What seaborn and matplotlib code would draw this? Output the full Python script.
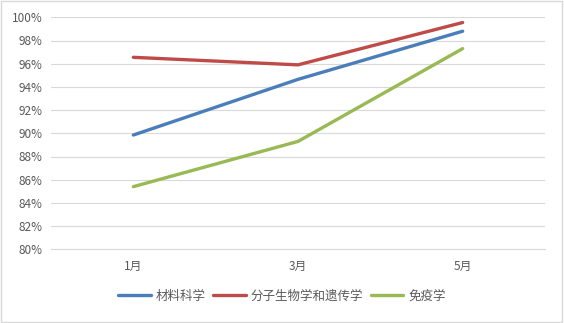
import matplotlib
matplotlib.use("Agg")
import matplotlib.pyplot as plt
import seaborn as sns
import pandas as pd
from matplotlib.patches import Rectangle
from matplotlib.ticker import FuncFormatter

months = ["1月", "3月", "5月"]
series_names = ["材料科学", "分子生物学和遗传学", "免疫学"]
materials = [89.85, 94.65, 98.8]
molbio = [96.55, 95.9, 99.55]
immuno = [85.4, 89.3, 97.3]
colors = ["#4A7EBB", "#BE4B48", "#98B954"]

rows = []
for name, vals in zip(series_names, [materials, molbio, immuno]):
    for m, v in zip(months, vals):
        rows.append({"month": m, "value": v, "series": name})
df = pd.DataFrame(rows)

sns.set_style("white")
plt.rcParams['font.family'] = ['Noto Sans CJK SC', 'DejaVu Sans']

fig = plt.figure(figsize=(5.64, 3.23), dpi=100)
ax = fig.add_axes([51/564, 1-249.3/323, 494/564, 232/323])

sns.lineplot(data=df, x="month", y="value", hue="series", hue_order=series_names,
             palette=colors, linewidth=2.4, ax=ax, sort=False)

ax.set_xlim(-0.5, 2.5)
ax.set_ylim(80, 100)
ax.set_yticks(range(80, 101, 2))
ax.yaxis.set_major_formatter(FuncFormatter(lambda v, p: f"{int(v)}%"))
ax.grid(axis="y", color="#d9d9d9", linewidth=0.8)
ax.set_axisbelow(True)
for s in ["top", "right", "left"]:
    ax.spines[s].set_visible(False)
ax.spines["bottom"].set_color("#d9d9d9")
ax.spines["bottom"].set_linewidth(0.8)
ax.tick_params(axis="both", length=0, colors="#595959", labelsize=8.5)
ax.tick_params(axis="y", pad=6)
ax.tick_params(axis="x", pad=8)
ax.set_xlabel("")
ax.set_ylabel("")

leg = ax.legend(loc="center", bbox_to_anchor=(0.5, (323-296)/323), bbox_transform=fig.transFigure,
                ncol=3, frameon=False, fontsize=9, handlelength=2.6, columnspacing=0.6,
                handletextpad=0.4)
for t in leg.get_texts():
    t.set_color("#595959")
for l in leg.get_lines():
    l.set_linewidth(2.4)

fig.patches.append(Rectangle((0.002, 0.003), 0.994, 0.994, transform=fig.transFigure,
                             fill=False, edgecolor="#d9d9d9", linewidth=1))

fig.savefig("out.png", dpi=100)
